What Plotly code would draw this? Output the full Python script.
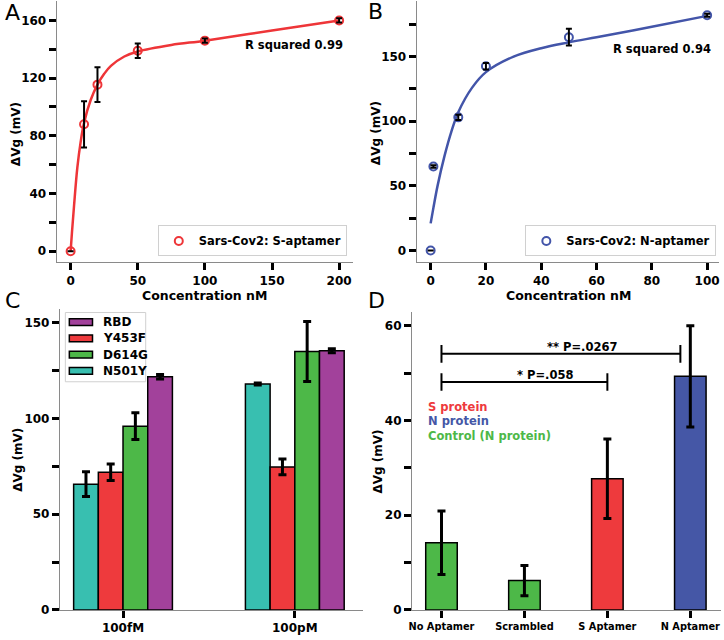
import plotly.graph_objects as go

W, H = 724, 640

# ---------------- data ----------------
# Panel A (S-aptamer)
a_conc = [0, 10, 20, 50, 100, 200]
a_dvg = [0, 88, 115.5, 139, 146, 160]
a_err = [0, 16, 12, 5, 1.5, 1.5]
a_fit_x = [0, 1, 2.5, 5, 7.5, 10, 15, 20, 25, 30, 40, 50, 75, 100, 150, 200]
a_fit_y = [0, 13, 31, 58, 76, 89, 105, 115.5, 123, 128.5, 135, 138.5, 143, 146, 153, 160]

# Panel B (N-aptamer)
b_conc = [0, 1, 10, 20, 50, 100]
b_dvg = [0, 65, 103, 142.5, 165, 182]
b_err = [0, 1, 2, 2.5, 6.5, 1.2]
b_fit_x = [0, 1, 2.5, 5, 7.5, 10, 15, 20, 30, 40, 50, 60, 80, 100]
b_fit_y = [21, 33, 50, 73, 92, 107, 126, 138, 150, 156.5, 161, 165, 173, 181.5]

# Panel C (variants)
c_cats = ["100fM", "100pM"]
c_series = ["N501Y", "Y453F", "D614G", "RBD"]
c_vals = {"N501Y": [65.7, 118], "Y453F": [71.9, 74.7], "D614G": [96, 135], "RBD": [121.8, 135.4]}
c_errs = {"N501Y": [6.5, 0.5], "Y453F": [4.3, 4.1], "D614G": [7, 15.7], "RBD": [1.2, 1]}
c_legend_order = ["RBD", "Y453F", "D614G", "N501Y"]

# Panel D (specificity)
d_cats = ["No Aptamer", "Scrambled", "S Aptamer", "N Aptamer"]
d_vals = [14.2, 6.2, 27.7, 49.3]
d_errs = [6.7, 3.2, 8.4, 10.7]
d_kind = ["control", "control", "S", "N"]
sig_x0 = [0, 0]
sig_x1 = [2.0, 2.88]
sig_y = [48.1, 54.05]
sig_text = ["* P=.058", "** P=.0267"]
sig_text_x = [1.25, 1.70]

# ---------------- style ----------------
RED = "#ee3538"
BLUE = "#4355a9"
C_COL = {"N501Y": "#38bfb0", "Y453F": "#ee3a3d", "D614G": "#4db848", "RBD": "#a2419b"}
D_COL = {"control": "#4db848", "S": "#ee3a3d", "N": "#4557a6"}
FONT = "DejaVu Sans"


def px_x(p):
    return p / W


def px_y(p):
    return 1 - p / H


fig = go.Figure()

# ---- A ----
fig.add_trace(go.Scatter(x=a_fit_x, y=a_fit_y, mode="lines", line=dict(color=RED, width=2.5, shape="spline"),
                         showlegend=False, hoverinfo="skip", xaxis="x", yaxis="y"))
fig.add_trace(go.Scatter(x=a_conc, y=a_dvg, mode="markers", name="Sars-Cov2: S-aptamer",
                         marker=dict(symbol="circle-open", size=8, color=RED, line=dict(width=2, color=RED)),
                         legend="legend", xaxis="x", yaxis="y"))
fig.add_trace(go.Scatter(x=a_conc, y=a_dvg, mode="markers", marker=dict(size=1, color="rgba(0,0,0,0)"),
                         error_y=dict(type="data", array=a_err, color="black", thickness=2, width=3),
                         showlegend=False, hoverinfo="skip", xaxis="x", yaxis="y"))

# ---- B ----
fig.add_trace(go.Scatter(x=b_fit_x, y=b_fit_y, mode="lines", line=dict(color=BLUE, width=2.5, shape="spline"),
                         showlegend=False, hoverinfo="skip", xaxis="x2", yaxis="y2"))
fig.add_trace(go.Scatter(x=b_conc, y=b_dvg, mode="markers", name="Sars-Cov2: N-aptamer",
                         marker=dict(symbol="circle-open", size=8, color=BLUE, line=dict(width=2, color=BLUE)),
                         legend="legend2", xaxis="x2", yaxis="y2"))
fig.add_trace(go.Scatter(x=b_conc, y=b_dvg, mode="markers", marker=dict(size=1, color="rgba(0,0,0,0)"),
                         error_y=dict(type="data", array=b_err, color="black", thickness=2, width=3),
                         showlegend=False, hoverinfo="skip", xaxis="x2", yaxis="y2"))

# ---- C ----
for s in c_series:
    fig.add_trace(go.Bar(x=c_cats, y=c_vals[s], name=s, showlegend=False,
                         marker=dict(color=C_COL[s], line=dict(color="black", width=1.5)),
                         error_y=dict(type="data", array=c_errs[s], color="black", thickness=3, width=4),
                         xaxis="x3", yaxis="y3"))

# ---- D ----
fig.add_trace(go.Bar(x=d_cats, y=d_vals, width=0.38, showlegend=False,
                     marker=dict(color=[D_COL[k] for k in d_kind], line=dict(color="black", width=1.5)),
                     error_y=dict(type="data", array=d_errs, color="black", thickness=3, width=4),
                     xaxis="x4", yaxis="y4"))

shapes = []
annotations = []

# significance brackets in D
for x0, x1, y in zip(sig_x0, sig_x1, sig_y):
    for (sx0, sx1, sy0, sy1) in [(x0, x1, y, y), (x0, x0, y - 1.85, y + 1.85), (x1, x1, y - 1.85, y + 1.85)]:
        shapes.append(dict(type="line", xref="x4", yref="y4", x0=sx0, x1=sx1, y0=sy0, y1=sy1,
                           line=dict(color="black", width=2)))
for t, tx, y in zip(sig_text, sig_text_x, sig_y):
    annotations.append(dict(xref="x4", yref="y4", x=tx, y=y + 1.4, text=t, showarrow=False,
                            xanchor="center", yanchor="middle",
                            font=dict(family=FONT, size=11.5, weight="bold", color="black")))

for txt, col, yp in [("S protein", D_COL["S"], 411.7), ("N protein", D_COL["N"], 426),
                     ("Control (N protein)", D_COL["control"], 440.7)]:
    annotations.append(dict(xref="paper", yref="paper", x=px_x(425), y=px_y(yp), text=txt, showarrow=False,
                            xanchor="left", yanchor="middle",
                            font=dict(family=FONT, size=11.5, weight="bold", color=col)))

# legend box for C (matplotlib-style patches)
shapes.append(dict(type="rect", xref="paper", yref="paper", x0=px_x(62.7), x1=px_x(143.5),
                   y0=px_y(386), y1=px_y(316), fillcolor="white", line=dict(color="#d0d0d0", width=1)))
for i, s in enumerate(c_legend_order):
    yc = 325.7 + i * 16.43
    shapes.append(dict(type="rect", xref="paper", yref="paper", x0=px_x(66.7), x1=px_x(90),
                       y0=px_y(yc + 3.5), y1=px_y(yc - 3.5), fillcolor=C_COL[s],
                       line=dict(color="black", width=1.5)))
    annotations.append(dict(xref="paper", yref="paper", x=px_x(99), y=px_y(yc), text=s, showarrow=False,
                            xanchor="left", yanchor="middle",
                            font=dict(family=FONT, size=12, weight="bold", color="black")))

# R squared
annotations.append(dict(xref="paper", yref="paper", x=px_x(343.5), y=px_y(45.7), text="R squared 0.99",
                        showarrow=False, xanchor="right", yanchor="middle",
                        font=dict(family=FONT, size=11.5, weight="bold", color="black")))
annotations.append(dict(xref="paper", yref="paper", x=px_x(714), y=px_y(50), text="R squared 0.94",
                        showarrow=False, xanchor="right", yanchor="middle",
                        font=dict(family=FONT, size=11.5, weight="bold", color="black")))

# panel letters
for L, xp, yp in [("A", 9.5, 12.5), ("B", 374.5, 12), ("C", 9.5, 304), ("D", 376, 304)]:
    annotations.append(dict(xref="paper", yref="paper", x=px_x(xp), y=px_y(yp), text=L, showarrow=False,
                            xanchor="center", yanchor="middle",
                            font=dict(family=FONT, size=22, color="black")))

# axis titles
for xp, yp in [(12.7, 136), (374.7, 135), (15, 465), (377, 466.7)]:
    annotations.append(dict(xref="paper", yref="paper", x=px_x(xp), y=px_y(yp), text="ΔVg (mV)",
                            textangle=-90, showarrow=False, xanchor="center", yanchor="middle",
                            font=dict(family=FONT, size=12, weight="bold", color="black")))
for xp in [202.9, 568.5]:
    annotations.append(dict(xref="paper", yref="paper", x=px_x(xp), y=px_y(298.5), text="Concentration nM",
                            showarrow=False, xanchor="center", yanchor="middle",
                            font=dict(family=FONT, size=12.5, weight="bold", color="black")))

tickfont = dict(family=FONT, size=12, weight="bold", color="black")
axis_common = dict(showline=True, linecolor="#8a8a8a", linewidth=1.2, ticks="outside", ticklen=7,
                   tickwidth=2.5, tickcolor="black", showgrid=False, zeroline=False, tickfont=tickfont,
                   fixedrange=True)


def ticks(vals, every):
    return dict(tickmode="array", tickvals=vals,
                ticktext=[str(v) if i % every == 0 else "" for i, v in enumerate(vals)])


yA = [0, 20, 40, 60, 80, 100, 120, 140, 160]
yB = [0, 25, 50, 75, 100, 125, 150, 175]
yC = [0, 25, 50, 75, 100, 125, 150]
yD = [0, 10, 20, 30, 40, 50, 60]

legend_font = dict(family=FONT, size=11.5, weight="bold", color="black")

fig.update_layout(
    width=W, height=H, margin=dict(l=0, r=0, t=0, b=0),
    paper_bgcolor="white", plot_bgcolor="white",
    barmode="group", bargap=0.425, bargroupgap=0,
    xaxis=dict(domain=[px_x(54), px_x(351.7)], anchor="y", range=[-10.37, 210.15],
               tickmode="array", tickvals=[0, 50, 100, 150, 200], **axis_common),
    yaxis=dict(domain=[px_y(265), px_y(1)], anchor="x", range=[-7.54, 173.5], **ticks(yA, 2), **axis_common),
    xaxis2=dict(domain=[px_x(416), px_x(720)], anchor="y2", range=[-5.04, 104.3],
                tickmode="array", tickvals=[0, 20, 40, 60, 80, 100], **axis_common),
    yaxis2=dict(domain=[px_y(265), px_y(1)], anchor="x2", range=[-8.95, 193], **ticks(yB, 2), **axis_common),
    xaxis3=dict(domain=[px_x(57.3), px_x(362)], anchor="y3", range=[-0.367, 1.397], type="category",
                **axis_common),
    yaxis3=dict(domain=[px_y(616.7), px_y(312)], anchor="x3", range=[0, 157.4], **ticks(yC, 2), **axis_common),
    xaxis4=dict(domain=[px_x(411.3), px_x(722)], anchor="y4", range=[-0.355, 3.37], type="category",
                **{**axis_common, "tickfont": dict(family=FONT, size=9.8, weight="bold", color="black")}),
    yaxis4=dict(domain=[px_y(616.7), px_y(315)], anchor="x4", range=[0, 62.98], **ticks(yD, 2), **axis_common),
    legend=dict(x=px_x(345.7), y=px_y(259.3), xanchor="right", yanchor="bottom", bgcolor="white",
                bordercolor="#d0d0d0", borderwidth=1, font=legend_font),
    legend2=dict(x=px_x(717.3), y=px_y(259.3), xanchor="right", yanchor="bottom", bgcolor="white",
                 bordercolor="#d0d0d0", borderwidth=1, font=legend_font),
    shapes=shapes, annotations=annotations, showlegend=True,
)

fig.write_html("out.html", config={"displayModeBar": False},
               post_script="document.body.style.margin='0px';document.body.style.overflow='hidden';")
